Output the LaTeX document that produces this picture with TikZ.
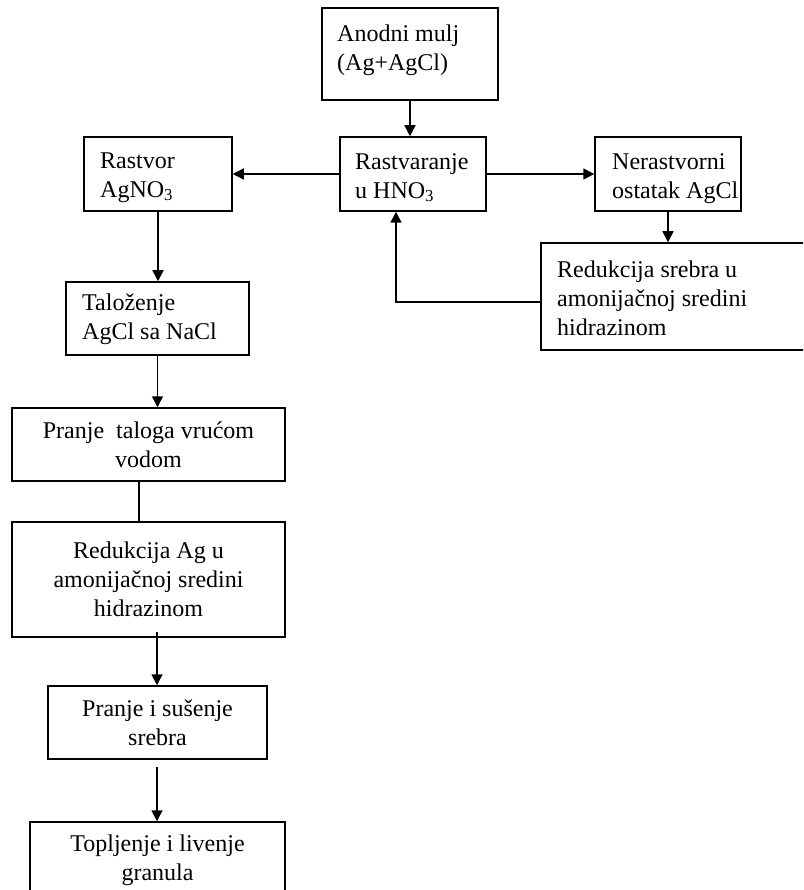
\documentclass[tikz,border=0pt]{standalone}
\usepackage{fontspec}
\setmainfont{Liberation Serif}
\usetikzlibrary{arrows.meta}
\newcommand\fs{\fontsize{24}{29}\selectfont}
\tikzset{
  box/.style={draw, line width=1.5pt, inner sep=0pt},
  lt/.style={anchor=north west, align=left, inner sep=0pt, font=\fs},
  ct/.style={align=center, font=\fs},
  arr/.style={line width=1.5pt, -{Triangle[length=11pt,width=11pt]}},
  ln/.style={line width=1.5pt}
}
\begin{document}
\begin{tikzpicture}[x=1pt,y=-1pt]
\useasboundingbox (0,0) rectangle (803,890);
\clip (0,0) rectangle (803,890);
% boxes
\node[box, minimum width=176pt, minimum height=92pt] (anod) at (410,54) {};
\node[box, minimum width=146pt, minimum height=74pt] (rastv) at (413,174) {};
\node[box, minimum width=148pt, minimum height=74pt] (rastvor) at (158,174) {};
\node[box, minimum width=146pt, minimum height=74pt] (neras) at (668,174) {};
\node[box, minimum width=269pt, minimum height=107pt] (redsr) at (675.5,296.5) {};
\node[box, minimum width=183pt, minimum height=73pt] (talo) at (157.5,318.5) {};
\node[box, ct, minimum width=273pt, minimum height=73pt] (pranje) at (148.5,444.5) {Pranje\ \ taloga vrućom\\vodom};
\node[box, ct, minimum width=273pt, minimum height=115pt] (redag) at (148.5,579.5) {Redukcija Ag u\\amonijačnoj sredini\\hidrazinom};
\node[box, ct, minimum width=219pt, minimum height=73pt] (prsus) at (157.5,722.5) {Pranje i sušenje\\srebra};
\node[box, minimum width=255pt, minimum height=86pt] (topl) at (157.5,865) {};
% left-aligned texts
\node[lt] (tanod) at (337,20.7) {\strut Anodni mulj\\(Ag+AgCl)};
\node[lt] (trastv) at (355,148.7) {\strut Rastvaranje\\u HNO\textsubscript{3}};
\node[lt] (trastvor) at (100,147.7) {\strut Rastvor\\AgNO\textsubscript{3}};
\node[lt] (tneras) at (612,148.7) {\strut Nerastvorni\\ostatak AgCl};
\node[lt] (tredsr) at (557,256.7) {\strut Redukcija srebra u\\amonijačnoj sredini\\hidrazinom};
\node[lt] (ttalo) at (82,289.7) {\strut Taloženje\\AgCl sa NaCl};
\node[ct, anchor=north, inner sep=0pt] (ttopl) at (157.5,830.7) {\strut Topljenje i livenje\\granula};
% connectors
\draw[arr] (anod.south) -- (anod.south |- rastv.north);
\draw[arr] (rastv.west) -- (rastvor.east);
\draw[arr] (rastv.east) -- (neras.west);
\draw[arr] (neras.south) -- (neras.south |- redsr.north);
\coordinate (fb) at (396,302);
\draw[arr] (redsr.west |- fb) -- (fb) -- (fb |- rastv.south);
\draw[arr] (rastvor.south) -- (rastvor.south |- talo.north);
\draw[arr] (talo.south) -- (talo.south |- pranje.north);
\coordinate (pl) at (139,481);
\draw[ln] (pl |- pranje.south) -- (pl |- redag.north);
\coordinate (rs) at (157,632);
\draw[arr] (rs) -- (rs |- prsus.north);
\coordinate (ps) at (157,767);
\draw[arr] (ps) -- (ps |- topl.north);
\end{tikzpicture}
\end{document}
